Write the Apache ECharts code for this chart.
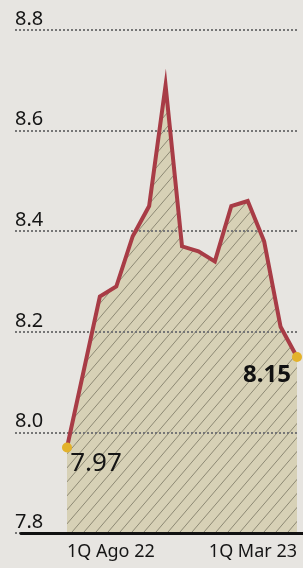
<!DOCTYPE html>
<html>
<head>
<meta charset="utf-8">
<script src="https://cdn.jsdelivr.net/npm/echarts@6/dist/echarts.min.js"></script>
<style>
html,body{margin:0;padding:0;background:#e7e5e1;}
#chart{width:303px;height:568px;}
</style>
</head>
<body>
<div id="chart"></div>
<script>
const categories = ['1Q Ago 22','2Q Ago 22','1Q Sep 22','2Q Sep 22','1Q Oct 22','2Q Oct 22','1Q Nov 22','2Q Nov 22','1Q Dic 22','2Q Dic 22','1Q Ene 23','2Q Ene 23','1Q Feb 23','2Q Feb 23','1Q Mar 23'];
const values = [7.97, 8.12, 8.27, 8.29, 8.39, 8.45, 8.69, 8.37, 8.36, 8.34, 8.45, 8.46, 8.38, 8.21, 8.15];
const yMin = 7.8, yMax = 8.8, yStep = 0.2;

const FONT = 'Noto Sans';
const last = values.length - 1;

function makeHatch(){
  const w = 12, h = 14;
  const c = document.createElement('canvas');
  c.width = w; c.height = h;
  const g = c.getContext('2d');
  g.fillStyle = '#d7d1b6';
  g.fillRect(0,0,w,h);
  g.strokeStyle = '#8d8974';
  g.lineWidth = 1;
  g.beginPath();
  g.moveTo(-1, h + 1.17); g.lineTo(w + 1, -1.17);
  g.moveTo(-1, 1.17); g.lineTo(1, -1.17);
  g.moveTo(w - 1, h + 1.17); g.lineTo(w + 1, h - 1.17);
  g.stroke();
  return c;
}

const lineData = values.map((v, i) => {
  if (i === 0) {
    return { value: v, label: { show: true, position: 'inside', offset: [29, 16], fontSize: 26, color: '#151515', fontFamily: FONT, formatter: String(v.toFixed(2)) } };
  }
  if (i === last) {
    return { value: v, label: { show: true, position: 'inside', offset: [-30, 18], fontSize: 24, fontWeight: 'bold', color: '#111', fontFamily: FONT, formatter: String(v.toFixed(2)) } };
  }
  return v;
});

const chart = echarts.init(document.getElementById('chart'), null, {renderer: 'canvas'});
chart.setOption({
  animation: false,
  backgroundColor: '#e7e5e1',
  grid: [
    { left: 15, right: 5, top: 30, bottom: 35 },
    { left: 67, right: 6, top: 30, bottom: 35 },
    { left: 21, right: 0, top: 30, bottom: 35 }
  ],
  xAxis: [
    { gridIndex: 0, type: 'value', min: 0, max: 1, show: false },
    { gridIndex: 1, type: 'category', data: categories, boundaryGap: false,
      axisLine: { show: false }, axisTick: { show: false }, splitLine: { show: false },
      axisLabel: {
        interval: (i) => i === 0 || i === last,
        alignMinLabel: 'left', alignMaxLabel: 'right',
        margin: 10, fontSize: 18, color: '#151515', fontFamily: FONT
      }
    },
    { gridIndex: 2, type: 'value', min: 0, max: 1, z: 6,
      axisLine: { show: true, lineStyle: { color: '#111', width: 3 } },
      axisTick: { show: false }, axisLabel: { show: false }, splitLine: { show: false } }
  ],
  yAxis: [
    { gridIndex: 0, type: 'value', min: yMin, max: yMax, interval: yStep, z: 3,
      axisLine: { show: false }, axisTick: { show: false },
      splitLine: { show: true, lineStyle: { color: '#767676', width: 2, type: [2, 2] } },
      axisLabel: { inside: true, margin: 0, verticalAlign: 'bottom', lineHeight: 22,
        fontSize: 20, color: '#151515', fontFamily: FONT,
        formatter: (v) => v.toFixed(1) }
    },
    { gridIndex: 1, type: 'value', min: yMin, max: yMax, interval: yStep, show: false },
    { gridIndex: 2, type: 'value', min: yMin, max: yMax, show: false }
  ],
  series: [
    { type: 'line', xAxisIndex: 1, yAxisIndex: 1, data: values, z: 1,
      symbol: 'none', lineStyle: { width: 0 },
      areaStyle: { color: { image: makeHatch(), repeat: 'repeat' }, opacity: 1, origin: 'start' } },
    { type: 'line', xAxisIndex: 1, yAxisIndex: 1, data: lineData, z: 5,
      symbol: 'circle', showAllSymbol: true,
      symbolSize: (val, p) => (p.dataIndex === 0 || p.dataIndex === last) ? 10 : 0,
      itemStyle: { color: '#e3b22b' },
      lineStyle: { color: '#a83c46', width: 4, join: 'miter', miterLimit: 20 },
      label: { show: false }
    }
  ]
});
</script>
</body>
</html>
